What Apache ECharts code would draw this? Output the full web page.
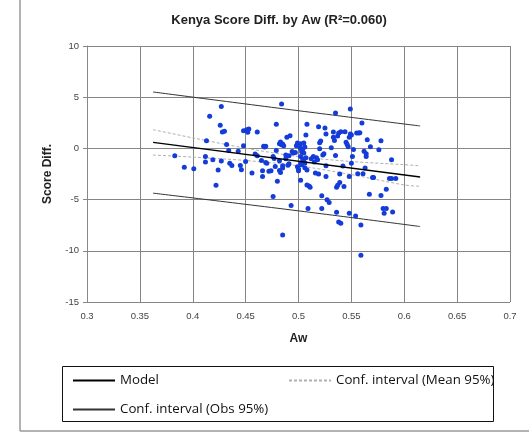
<!DOCTYPE html>
<html>
<head>
<meta charset="utf-8">
<script src="https://cdn.jsdelivr.net/npm/echarts@6/dist/echarts.min.js"></script>
<style>html,body{margin:0;padding:0;background:#fff;}#c{width:529px;height:438px;}</style>
</head>
<body>
<div id="c"></div>
<script>
// Observations (Aw, Score Diff.)
const obsAw = [
0.383,0.392,0.401,0.413,0.412,0.412,0.416,0.419,0.422,0.424,0.426,0.427,0.428,0.427,0.432,0.435,0.437,0.434,
0.445,0.446,0.448,0.448,0.450,0.451,0.452,0.453,0.456,0.459,0.461,0.461,0.465,0.466,0.466,0.467,0.468,0.469,
0.469,0.470,0.472,0.474,0.476,0.477,0.476,0.478,0.479,0.479,0.480,0.482,0.482,0.483,0.484,0.485,0.482,0.483,
0.484,0.485,0.485,0.485,0.486,0.488,0.489,0.491,0.491,0.492,0.493,0.494,0.495,0.497,0.498,0.499,0.499,0.500,
0.500,0.501,0.502,0.502,0.503,0.504,0.505,0.505,0.506,0.502,0.504,0.505,0.502,0.506,0.507,0.503,0.506,0.502,
0.507,0.508,0.508,0.508,0.510,0.511,0.509,0.512,0.514,0.515,0.516,0.517,0.518,0.519,0.519,0.520,0.520,0.521,
0.522,0.522,0.523,0.524,0.525,0.526,0.526,0.526,0.527,0.529,0.531,0.533,0.533,0.534,0.535,0.535,0.536,0.537,
0.536,0.537,0.538,0.540,0.538,0.540,0.539,0.539,0.542,0.543,0.544,0.545,0.546,0.547,0.548,0.548,0.549,0.549,
0.550,0.548,0.550,0.551,0.552,0.554,0.555,0.556,0.557,0.558,0.559,0.559,0.560,0.561,0.562,0.563,0.564,0.564,
0.565,0.567,0.568,0.570,0.571,0.576,0.578,0.578,0.580,0.581,0.583,0.583,0.586,0.588,0.588,0.589,0.592,
0.488,0.490,0.443,0.430
];
const obsScore = [
-0.72,-1.83,-1.99,0.75,-0.78,-1.34,3.13,-1.11,-3.59,-2.12,2.25,4.08,1.60,-1.24,0.39,-1.44,-1.66,-0.20,
-1.66,-2.09,0.26,1.73,-1.27,1.83,1.57,1.90,-2.41,-0.55,1.60,-0.72,-1.17,-2.19,-2.74,0.20,0.13,0.20,
-1.37,-1.44,-2.22,-2.19,-0.78,-0.98,-4.70,-1.76,2.35,-0.20,-3.20,-1.21,0.46,0.62,0.36,0.42,-2.15,-2.35,
4.34,-1.70,-1.92,-8.45,0.26,-0.65,1.08,-0.72,-1.50,1.24,-5.58,-0.30,-0.45,-0.40,0.26,0.52,-1.80,-2.00,
-2.18,0.20,0.00,0.46,-0.33,-0.07,0.52,-0.46,0.13,-0.78,-1.04,-1.30,-1.43,-1.43,-0.91,-1.60,-1.90,-3.10,
1.31,2.35,-2.12,-3.57,-3.67,-3.80,-5.87,-1.01,-0.78,-1.34,-2.41,-0.91,-1.11,2.12,-2.51,-0.03,0.55,0.72,
-4.63,-5.87,-0.65,-0.52,1.99,-1.70,-2.74,1.40,-5.02,-5.29,0.07,1.60,1.08,0.78,3.46,-0.69,-3.80,-3.59,
-6.23,1.20,1.50,1.63,-7.18,-7.31,-2.51,-3.33,-1.73,-3.72,1.63,0.59,0.39,0.16,1.08,-2.74,3.85,1.40,
1.31,-6.33,-1.44,-0.78,-0.10,-6.59,1.50,-2.48,1.50,1.53,-7.47,-10.44,2.48,-2.48,-0.29,-1.92,-0.52,-0.78,
0.85,-4.47,0.16,-2.84,-2.84,-0.13,0.75,-4.60,-5.87,-6.33,-5.87,-3.98,-2.94,-2.94,-1.11,-6.20,-2.94,
-1.00,-1.65,-0.28,1.67
];
// Regression model line
const modelAw = [0.3625, 0.615];
const modelScore = [0.59, -2.79];
// Confidence interval of the mean (95%)
const meanAw = [0.3625, 0.40, 0.45, 0.50, 0.55, 0.60, 0.615];
const meanUpper = [1.83, 1.03, 0.02, -0.80, -1.28, -1.59, -1.70];
const meanLower = [-0.65, -0.85, -1.18, -1.70, -2.56, -3.57, -3.70];
// Confidence interval of observations (95%)
const obsCiAw = [0.3625, 0.50, 0.615];
const obsUpper = [5.51, 3.68, 2.19];
const obsLower = [-4.37, -6.10, -7.63];

const xTicks = {min: 0.3, max: 0.7, interval: 0.05};
const yTicks = {min: -15, max: 10, interval: 5};

const zip = (a, b) => a.map((v, i) => [v, b[i]]);
const FONT = 'Liberation Sans';
const LEG = 'Open Sans';
const legText = {fontFamily: LEG, fontSize: 13.3, color: '#111'};

const chart = echarts.init(document.getElementById('c'), null, {renderer: 'canvas'});
chart.setOption({
  animation: false,
  backgroundColor: '#fff',
  title: {
    text: 'Kenya Score Diff. by Aw (R²=0.060)',
    left: 274, top: 9, textAlign: 'center',
    textStyle: {fontFamily: FONT, fontSize: 13, fontWeight: 'bold', color: '#222'}
  },
  grid: {left: 87, right: 19, top: 46, bottom: 136, containLabel: false},
  xAxis: {
    type: 'value', min: xTicks.min, max: xTicks.max, interval: xTicks.interval,
    name: 'Aw', nameLocation: 'middle', nameGap: 31,
    nameTextStyle: {fontFamily: FONT, fontSize: 12, fontWeight: 'bold', color: '#222'},
    axisLine: {show: true, lineStyle: {color: '#888', width: 1}},
    axisTick: {show: true, length: 3, lineStyle: {color: '#888'}},
    axisLabel: {fontFamily: FONT, fontSize: 9.5, color: '#444', margin: 9,
      formatter: v => String(Math.round(v * 100) / 100)},
    splitLine: {show: true, lineStyle: {color: '#858585', width: 1}}
  },
  yAxis: {
    type: 'value', min: yTicks.min, max: yTicks.max, interval: yTicks.interval,
    name: 'Score Diff.', nameLocation: 'middle', nameGap: 33,
    nameTextStyle: {fontFamily: FONT, fontSize: 12, fontWeight: 'bold', color: '#222'},
    axisLine: {show: true, lineStyle: {color: '#888', width: 1}},
    axisTick: {show: true, length: 4, lineStyle: {color: '#888'}},
    axisLabel: {fontFamily: FONT, fontSize: 9.5, color: '#444', margin: 8},
    splitLine: {show: true, lineStyle: {color: '#858585', width: 1}}
  },
  legend: [
    {data: ['Model'], left: 67, top: 369, itemWidth: 42, itemHeight: 10,
      itemStyle: {opacity: 0}, textStyle: legText},
    {data: ['Conf. interval (Mean 95%)'], left: 283, top: 369, itemWidth: 42, itemHeight: 10,
      itemStyle: {opacity: 0}, textStyle: legText},
    {data: ['Conf. interval (Obs 95%)'], left: 67, top: 398, itemWidth: 42, itemHeight: 10,
      itemStyle: {opacity: 0}, textStyle: legText}
  ],
  graphic: [
    {type: 'line', shape: {x1: 20, y1: 0, x2: 20, y2: 431}, style: {stroke: '#9a9a9a', lineWidth: 1.5}, silent: true},
    {type: 'line', shape: {x1: 20, y1: 431, x2: 529, y2: 431}, style: {stroke: '#9a9a9a', lineWidth: 1.5}, silent: true},
    {type: 'rect', shape: {x: 62.5, y: 366.5, width: 431, height: 55}, style: {fill: 'none', stroke: '#111', lineWidth: 1}, silent: true}
  ],
  series: [
    {type: 'scatter', name: 'Observations', data: zip(obsAw, obsScore), symbolSize: 5,
      itemStyle: {color: '#143cd8', opacity: 1}, z: 3},
    {type: 'line', name: 'Conf. interval (Mean 95%)', data: zip(meanAw, meanUpper), smooth: 0.3,
      symbol: 'none', itemStyle: {color: '#b0b0b0'}, lineStyle: {color: '#b0b0b0', width: 1, type: [3, 2]}, z: 2},
    {type: 'line', name: 'Conf. interval (Mean 95%)', data: zip(meanAw, meanLower), smooth: 0.3,
      symbol: 'none', itemStyle: {color: '#b0b0b0'}, lineStyle: {color: '#b0b0b0', width: 1, type: [3, 2]}, z: 2},
    {type: 'line', name: 'Conf. interval (Obs 95%)', data: zip(obsCiAw, obsUpper), smooth: true,
      symbol: 'none', itemStyle: {color: '#333'}, lineStyle: {color: '#333', width: 1}, z: 2},
    {type: 'line', name: 'Conf. interval (Obs 95%)', data: zip(obsCiAw, obsLower), smooth: true,
      symbol: 'none', itemStyle: {color: '#333'}, lineStyle: {color: '#333', width: 1}, z: 2},
    {type: 'line', name: 'Model', data: zip(modelAw, modelScore),
      symbol: 'none', itemStyle: {color: '#000'}, lineStyle: {color: '#000', width: 1.4}, z: 4}
  ]
});
</script>
</body>
</html>
